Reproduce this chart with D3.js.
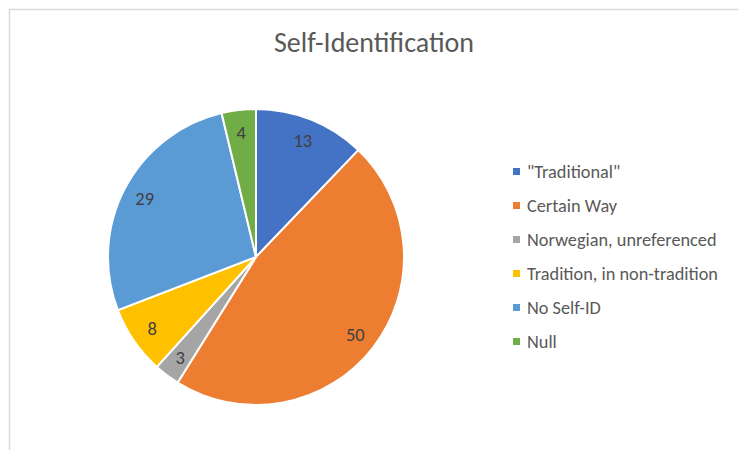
<!DOCTYPE html>
<html>
<head>
<meta charset="utf-8">
<script src="https://cdn.jsdelivr.net/npm/d3@7"></script>
<style>
	body { margin: 0; background: #fff; }
	svg { display: block; font-family: Calibri, Carlito, "Open Sans", "Liberation Sans", sans-serif; }
</style>
</head>
<body>
<svg width="738" height="450"></svg>
<script>
var categories = ['"Traditional"', "Certain Way", "Norwegian, unreferenced", "Tradition, in non-tradition", "No Self-ID", "Null"];
var values = [13, 50, 3, 8, 29, 4];
var colors = ["#4472C4", "#ED7D31", "#A5A5A5", "#FFC000", "#5B9BD5", "#70AD47"];

var svg = d3.select("svg");

// chart area frame
svg.append("rect")
	.attr("x", 9.5).attr("y", 9.5)
	.attr("width", 760).attr("height", 460)
	.attr("fill", "#fff")
	.attr("stroke", "#d9d9d9")
	.attr("stroke-width", 1.5);

svg.append("text")
	.attr("x", 374).attr("y", 52)
	.attr("text-anchor", "middle")
	.attr("font-size", 28)
	.attr("fill", "#595959")
	.text("Self-Identification");

var cx = 256, cy = 257, r = 148;

var pie = d3.pie().sort(null).value(function (d) { return d; });
var arc = d3.arc().innerRadius(0).outerRadius(r);
var labelArc = d3.arc().innerRadius(r * 0.85).outerRadius(r * 0.85);

var g = svg.append("g").attr("transform", "translate(" + cx + "," + cy + ")");
var arcs = pie(values);

g.selectAll("path")
	.data(arcs)
	.enter()
	.append("path")
	.attr("d", arc)
	.attr("fill", function (d, i) { return colors[i]; })
	.attr("stroke", "#fff")
	.attr("stroke-width", 2);

g.selectAll("text")
	.data(arcs)
	.enter()
	.append("text")
	.attr("transform", function (d) { return "translate(" + labelArc.centroid(d) + ")"; })
	.attr("text-anchor", "middle")
	.attr("dy", "0.35em")
	.attr("font-size", 18.5)
	.attr("fill", "#404040")
	.text(function (d) { return d.data; });

var legend = svg.append("g").attr("transform", "translate(513,172)");
var rows = legend.selectAll("g")
	.data(categories)
	.enter()
	.append("g")
	.attr("transform", function (d, i) { return "translate(0," + (i * 34) + ")"; });

rows.append("rect")
	.attr("x", 0).attr("y", -4)
	.attr("width", 7).attr("height", 7)
	.attr("fill", function (d, i) { return colors[i]; });

rows.append("text")
	.attr("x", 14)
	.attr("dy", "0.35em")
	.attr("font-size", 18.3)
	.attr("fill", "#595959")
	.text(function (d) { return d; });
</script>
</body>
</html>
